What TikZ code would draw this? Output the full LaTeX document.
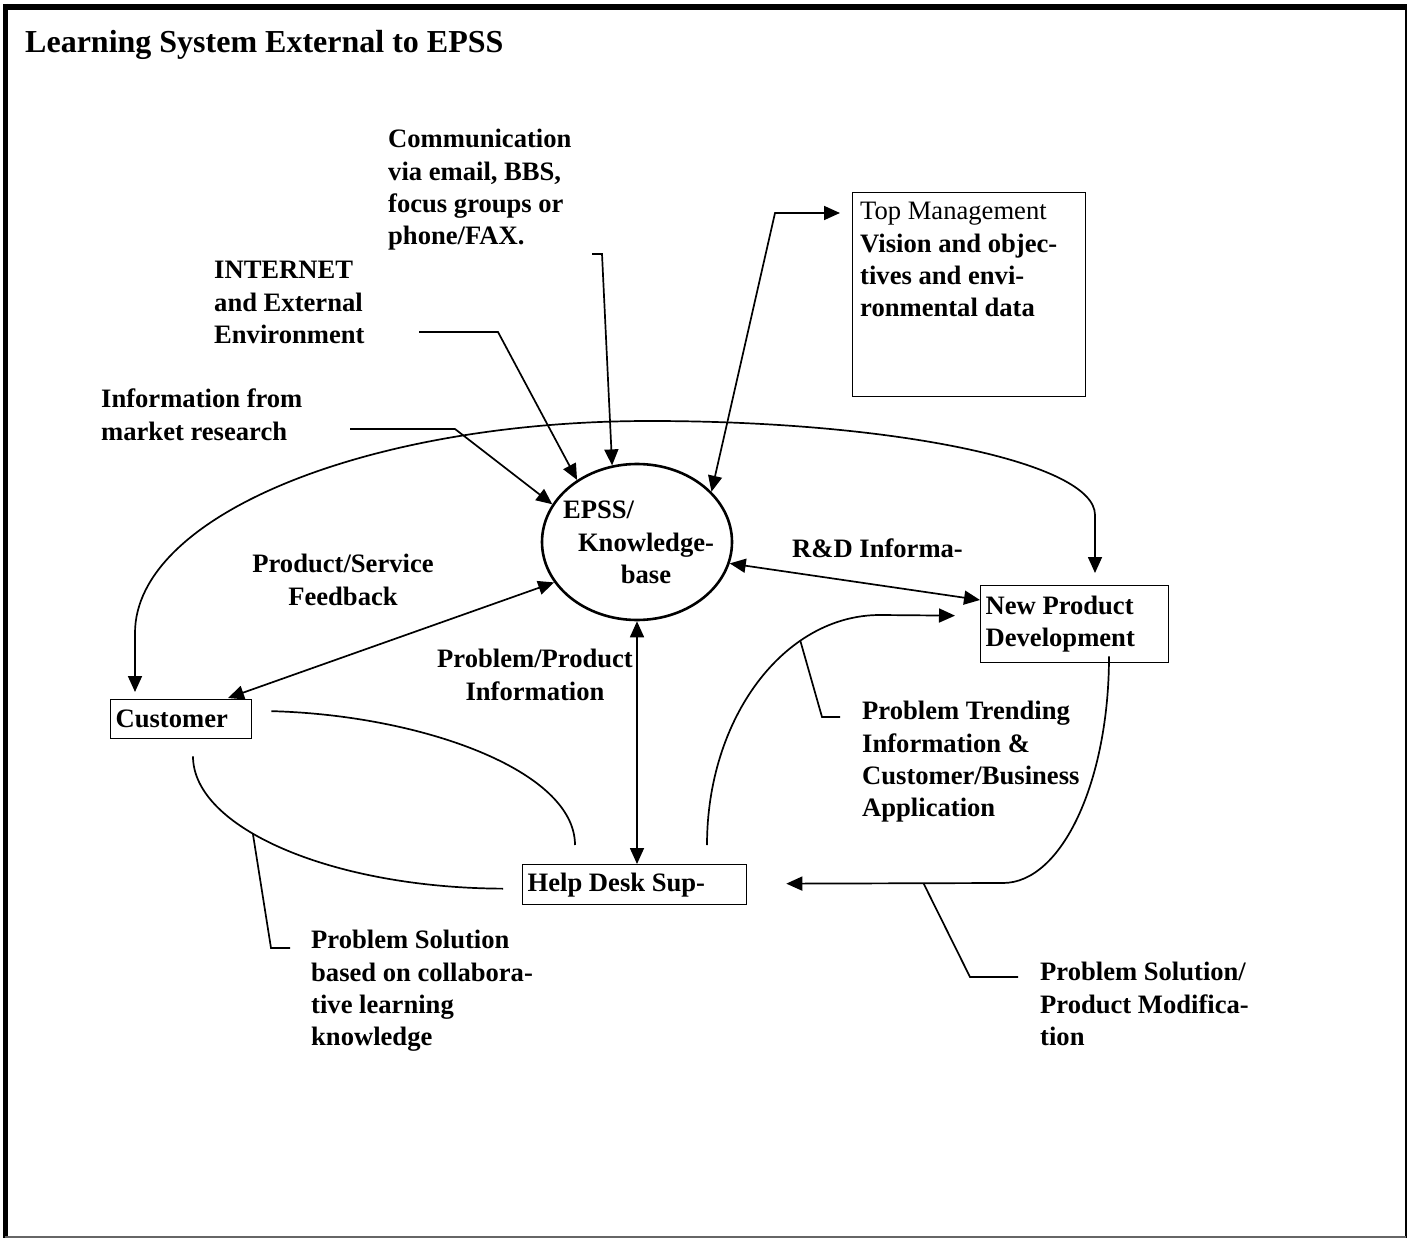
\documentclass[tikz,border=0pt]{standalone}
\usepackage{fontspec}
\setmainfont{Liberation Serif}
\usetikzlibrary{arrows.meta,shapes.geometric,calc}
\begin{document}
\begin{tikzpicture}[x=1pt,y=-1pt,
  lbl/.style={font=\fontsize{26.6}{32.4}\selectfont\bfseries, inner sep=0pt, align=left, anchor=north west},
  clbl/.style={lbl, align=center, anchor=north},
  boxst/.style={draw, line width=1.3pt, font=\fontsize{26.6}{32.4}\selectfont\bfseries, align=flush left, inner xsep=5pt, inner ysep=0pt, anchor=north west},
  conn/.style={line width=1.7pt},
  tip/.style={-{Triangle[length=16pt,width=14pt]}},
  tipboth/.style={{Triangle[length=16pt,width=14pt]}-{Triangle[length=16pt,width=14pt]}},
]
\useasboundingbox (0,0) rectangle (1408,1238);
% frame
\draw[line width=6pt] (3,7) -- (1407,7);
\draw[line width=5pt] (5.5,4) -- (5.5,1238);
\draw[line width=1.8pt] (1406,5) -- (1406,1238);
\draw[line width=1.2pt, black!60] (5,1237) -- (1406,1237);

\node[font=\fontsize{32}{38}\selectfont\bfseries, inner sep=0pt, anchor=base west] (title) at (25,53) {Learning System External to EPSS};

\node[lbl] (comm) at (388,129) {Communication\\via email, BBS,\\focus groups or\\phone/FAX.};
\node[lbl] (inet) at (214,261) {INTERNET\\and External\\Environment};
\node[lbl] (mkt) at (101,389) {Information from\\market research};
\node[draw, line width=1.3pt, minimum width=233pt, minimum height=204pt, inner sep=0pt, anchor=north west] (tm) at (852,192) {};
\node[lbl] (tmtext) at (860,202) {{\mdseries Top Management}\\Vision and objec-\\tives and envi-\\ronmental data};

\node[draw, ellipse, line width=2.6pt, minimum width=190pt, minimum height=156pt, inner sep=0pt] (epss) at (637,542) {};
\node[clbl] (epsstext) at (646,501) {EPSS/\hspace*{95pt}\\Knowledge-\\base};

\node[lbl] (rd) at (792,539) {R\&D Informa-};
\node[boxst, text width=178pt, minimum height=77pt] (npd) at (980,585) {New Product\\Development};
\node[clbl] (psf) at (343,554) {Product/Service\\Feedback};
\node[clbl] (ppi) at (535,649) {Problem/Product\\Information};
\node[boxst, text width=131pt, minimum height=39pt] (cust) at (110,699) {Customer};
\node[boxst, text width=214pt, minimum height=40pt] (help) at (522,864) {Help Desk Sup-};
\node[lbl] (ptr) at (862,701) {Problem Trending\\Information \&\\Customer/Business\\Application};
\node[lbl] (ps1) at (311,930) {Problem Solution\\based on collabora-\\tive learning\\knowledge};
\node[lbl] (ps2) at (1040,962) {Problem Solution/\\Product Modifica-\\tion};

% connectors
\coordinate (s1) at (592,254);
\draw[conn, tip] (s1) -- (602,254) -- (epss.108);
\coordinate (s2) at (419,332);
\draw[conn, tip] (s2) -- (498,332) -- (epss.134);
\coordinate (s3) at (350,429);
\draw[conn, tip] (s3) -- (455,429) -- (epss.156);
\draw[conn, tipboth] (epss.34) -- (775,213) -- ($(tm.north west)+(-12,21)$);

\draw[conn, tipboth] ($(cust.north west)+(25,-7)$) -- (135,633) .. controls (135,516) and (366,421) .. (650,421) .. controls (896,421) and (1095,463) .. (1095,515) -- ($(npd.north west)+(115,-12)$);

\draw[conn, tipboth] (epss.-13.5) -- ($(npd.north west)+(0,15)$);
\draw[conn, tipboth] ($(cust.north west)+(118,-1)$) -- (epss.206.6);
\draw[conn, tipboth] (epss.south) -- (epss.south |- help.north);

\draw[conn] ($(cust.east)+(19,-8)$) .. controls (420,715) and (575,770) .. ($(help.north west)+(53,-19)$);
\draw[conn] ($(cust.south west)+(83,17)$) .. controls (193,828) and (332,888) .. coordinate[pos=0.4] (pc1) ($(help.west)+(-19,4)$);
\draw[conn] (pc1) -- (271,948) -- ($(ps1.north west)+(-21,18)$);

\draw[conn, tip] ($(help.north west)+(185,-19)$) .. controls (707,718) and (784,615) .. coordinate[pos=0.7] (pc2) (880,615) -- ($(npd.west)+(-25,-8.5)$);
\draw[conn] (pc2) -- (822,717) -- ($(ptr.north west)+(-22,16)$);

\draw[conn, tip] ($(npd.south west)+(129,-7)$) .. controls (1109,781) and (1062,883) .. (1003,883) -- coordinate[pos=0.367] (pc3) ($(help.east)+(39,-1)$);
\draw[conn] (pc3) -- (970,977) -- ($(ps2.north west)+(-22,15)$);
\end{tikzpicture}
\end{document}
